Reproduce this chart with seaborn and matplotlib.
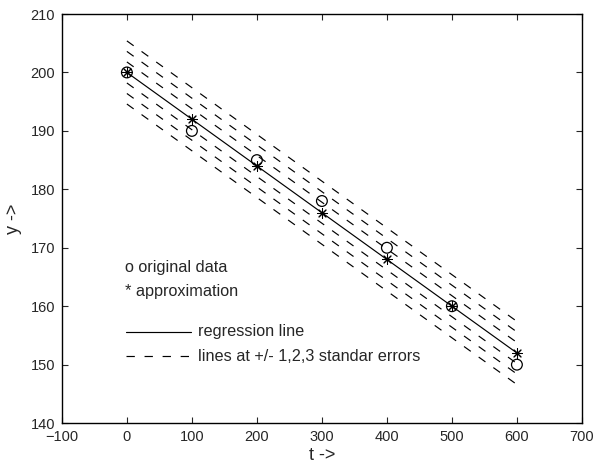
import matplotlib
matplotlib.use("Agg")
import numpy as np
import pandas as pd
import seaborn as sns
from matplotlib import pyplot as plt

# 観測データと回帰による近似値
t_values = [0, 100, 200, 300, 400, 500, 600]
original_y = [200, 190, 185, 178, 170, 160, 150]
approx_y = [200, 192, 184, 176, 168, 160, 152]
std_error = 1.8
error_levels = [-3, -2, -1, 1, 2, 3]

x_ticks = [-100, 0, 100, 200, 300, 400, 500, 600, 700]
y_ticks = [140, 150, 160, 170, 180, 190, 200, 210]

sns.set_style("ticks")
plt.rcParams["font.family"] = ["Liberation Sans", "DejaVu Sans"]
plt.rcParams["lines.scale_dashes"] = False

fig = plt.figure(figsize=(5.95, 4.67), dpi=100)
ax = fig.add_axes([0.104, 0.094, 0.874, 0.876])

df = pd.DataFrame({"t": t_values, "orig": original_y, "approx": approx_y})
dash = (0, (6, 7))

# 標準誤差の帯
for k in error_levels:
    band = df.assign(y=df["approx"] + k * std_error)
    sns.lineplot(data=band, x="t", y="y", ax=ax, color="black",
                 linewidth=0.85, linestyle=dash, estimator=None)

# 回帰直線
sns.lineplot(data=df, x="t", y="approx", ax=ax, color="black",
             linewidth=0.85, estimator=None)

sns.scatterplot(data=df, x="t", y="orig", ax=ax, marker="o", s=60,
                facecolor="none", edgecolor="black", linewidth=0.9, zorder=5)
sns.scatterplot(data=df, x="t", y="approx", ax=ax, marker=(8, 2, 0), s=50,
                color="black", linewidth=0.75, zorder=6)

# 凡例（MATLAB風の手書き）
ax.text(-3, 166.7, "o original data", fontsize=11.7, va="center")
ax.text(-3, 162.6, "* approximation", fontsize=11.7, va="center")
ax.plot([-1, 98], [155.6, 155.6], color="black", linewidth=0.85)
ax.text(110, 155.6, "regression line", fontsize=11.7, va="center")
ax.plot([-1, 98], [151.4, 151.4], color="black", linewidth=0.85, linestyle=dash)
ax.text(110, 151.4, "lines at +/- 1,2,3 standar errors", fontsize=11.7, va="center")

ax.set_xlim(-100, 700)
ax.set_ylim(140, 210)
ax.set_xticks(x_ticks)
ax.set_yticks(y_ticks)
narrow = ["Liberation Sans Narrow", "Liberation Sans", "DejaVu Sans"]
ax.set_xticklabels([f"{v}".replace("-", "\u2212") for v in x_ticks], family=narrow, fontsize=10.5)
ax.set_yticklabels([f"{v}" for v in y_ticks], family=narrow, fontsize=10.5)
ax.tick_params(direction="in", top=True, right=True, length=4, width=0.8, pad=5)
for side in ax.spines.values():
    side.set_visible(True)
    side.set_linewidth(1.0)
    side.set_color("black")

ax.set_xlabel("t ->", fontsize=13, labelpad=2)
ax.set_ylabel("y ->", fontsize=13, labelpad=6)

fig.savefig("out.png", dpi=100)
